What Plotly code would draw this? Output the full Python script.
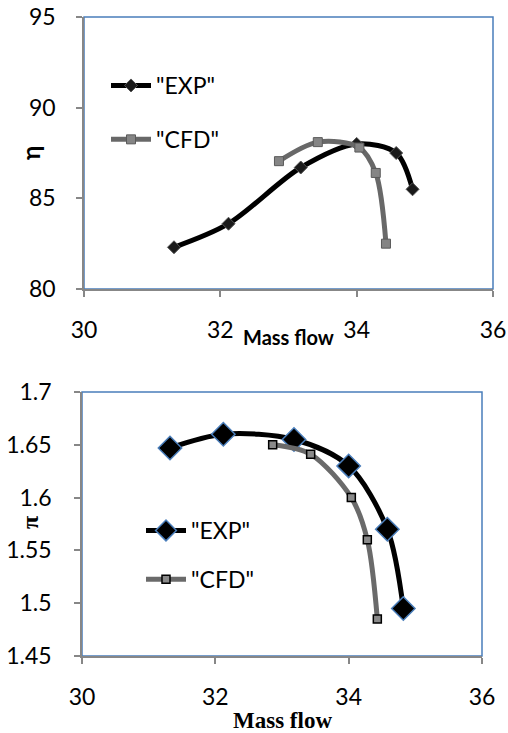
import plotly.graph_objects as go

# Data
exp_flow = [31.32, 32.12, 33.18, 34.0, 34.58, 34.82]
exp_eta = [82.3, 83.6, 86.7, 88.0, 87.5, 85.5]
cfd_flow = [32.86, 33.43, 34.04, 34.28, 34.43]
cfd_eta = [87.05, 88.1, 87.8, 86.4, 82.5]

exp_pi = [1.647, 1.660, 1.655, 1.630, 1.570, 1.495]
cfd_pi = [1.650, 1.641, 1.600, 1.560, 1.485]

x_ticks = [30, 32, 34, 36]
eta_ticks = [80, 85, 90, 95]
pi_ticks = [1.45, 1.5, 1.55, 1.6, 1.65, 1.7]
pi_labels = ["1.45", "1.5", "1.55", "1.6", "1.65", "1.7"]

W, H = 508, 733
SANS = "Lato, 'Open Sans', sans-serif"
SERIF = "'Liberation Serif', 'DejaVu Serif', serif"
AXIS_GRAY = "#878787"
BORDER_BLUE = "#4a7ebb"

fig = go.Figure()

# Top chart
fig.add_trace(go.Scatter(
    x=exp_flow, y=exp_eta, name='"EXP"', mode="lines+markers",
    line=dict(color="#000000", width=5, shape="spline", smoothing=0.9),
    marker=dict(symbol="diamond", size=10, color="#1a1a1a", line=dict(color="#555555", width=1)),
    xaxis="x", yaxis="y", legend="legend", legendgroup="a"))
fig.add_trace(go.Scatter(
    x=cfd_flow, y=cfd_eta, name='"CFD"', mode="lines+markers",
    line=dict(color="#686868", width=5, shape="spline", smoothing=0.9),
    marker=dict(symbol="square", size=9, color="#858585", line=dict(color="#5a5a5a", width=1)),
    xaxis="x", yaxis="y", legend="legend", legendgroup="b"))

# Bottom chart
fig.add_trace(go.Scatter(
    x=exp_flow, y=exp_pi, name='"EXP"', mode="lines+markers",
    line=dict(color="#000000", width=5, shape="spline", smoothing=0.9),
    marker=dict(symbol="diamond", size=18, color="#000000", line=dict(color=BORDER_BLUE, width=1.5)),
    xaxis="x2", yaxis="y2", legend="legend2", legendgroup="c"))
fig.add_trace(go.Scatter(
    x=cfd_flow, y=cfd_pi, name='"CFD"', mode="lines+markers",
    line=dict(color="#6a6a6a", width=5, shape="spline", smoothing=0.9),
    marker=dict(symbol="square", size=8, color="#8a8a8a", line=dict(color="#000000", width=1.5)),
    xaxis="x2", yaxis="y2", legend="legend2", legendgroup="d"))

ax_common = dict(showgrid=False, zeroline=False, showline=True, linecolor=AXIS_GRAY, linewidth=1.5,
                 ticks="outside", ticklen=6, tickcolor=AXIS_GRAY, tickwidth=1.5, automargin=False,
                 tickfont=dict(family=SANS, size=23, color="#000000"))

top_x = [84 / W, 493 / W]
top_y = [1 - 289 / H, 1 - 17 / H]
bot_x = [82 / W, 482 / W]
bot_y = [1 - 656 / H, 1 - 392 / H]

fig.update_layout(
    width=W, height=H, margin=dict(l=0, r=0, t=0, b=0),
    paper_bgcolor="white", plot_bgcolor="white", showlegend=True,
    xaxis=dict(domain=top_x, range=[30, 36], tickvals=x_ticks, anchor="y",
               ticklabelstandoff=14, **ax_common),
    yaxis=dict(domain=top_y, range=[80, 95], tickvals=eta_ticks, anchor="x",
               ticklabelstandoff=16, **ax_common),
    xaxis2=dict(domain=bot_x, range=[30, 36], tickvals=x_ticks, anchor="y2",
                ticklabelstandoff=14, **ax_common),
    yaxis2=dict(domain=bot_y, range=[1.45, 1.7], tickvals=pi_ticks, ticktext=pi_labels, anchor="x2",
                ticklabelstandoff=18, **ax_common),
    legend=dict(x=106 / W, y=1 - 64 / H, xanchor="left", yanchor="top",
                font=dict(family=SANS, size=23, color="#000000"),
                bgcolor="rgba(0,0,0,0)", tracegroupgap=21, itemwidth=40),
    legend2=dict(x=141 / W, y=1 - 509 / H, xanchor="left", yanchor="top",
                 font=dict(family=SANS, size=23, color="#000000"),
                 bgcolor="rgba(0,0,0,0)", tracegroupgap=16, itemwidth=40),
)

# Blue plot-area borders (top/right)
fig.add_shape(type="rect", xref="x domain", yref="y domain", x0=0, x1=1, y0=0, y1=1,
              line=dict(color=BORDER_BLUE, width=1.5), layer="below")
fig.add_shape(type="rect", xref="x2 domain", yref="y2 domain", x0=0, x1=1, y0=0, y1=1,
              line=dict(color=BORDER_BLUE, width=1.5), layer="below")

# Axis titles
ann = dict(xref="paper", yref="paper", showarrow=False, xanchor="center", yanchor="middle")
fig.add_annotation(text="<b>Mass flow</b>", x=288 / W, y=1 - 337 / H,
                   font=dict(family=SANS, size=20, color="#000000"), **ann)
fig.add_annotation(text="<b>η</b>", x=30 / W, y=1 - 153 / H, textangle=-90,
                   font=dict(family=SANS, size=24, color="#000000"), **ann)
fig.add_annotation(text="<b>Mass flow</b>", x=282 / W, y=1 - 720 / H,
                   font=dict(family=SERIF, size=23, color="#000000"), **ann)
fig.add_annotation(text="<b>π</b>", x=30 / W, y=1 - 523 / H, textangle=-90,
                   font=dict(family=SERIF, size=24, color="#000000"), **ann)

fig.write_html("out.html")
